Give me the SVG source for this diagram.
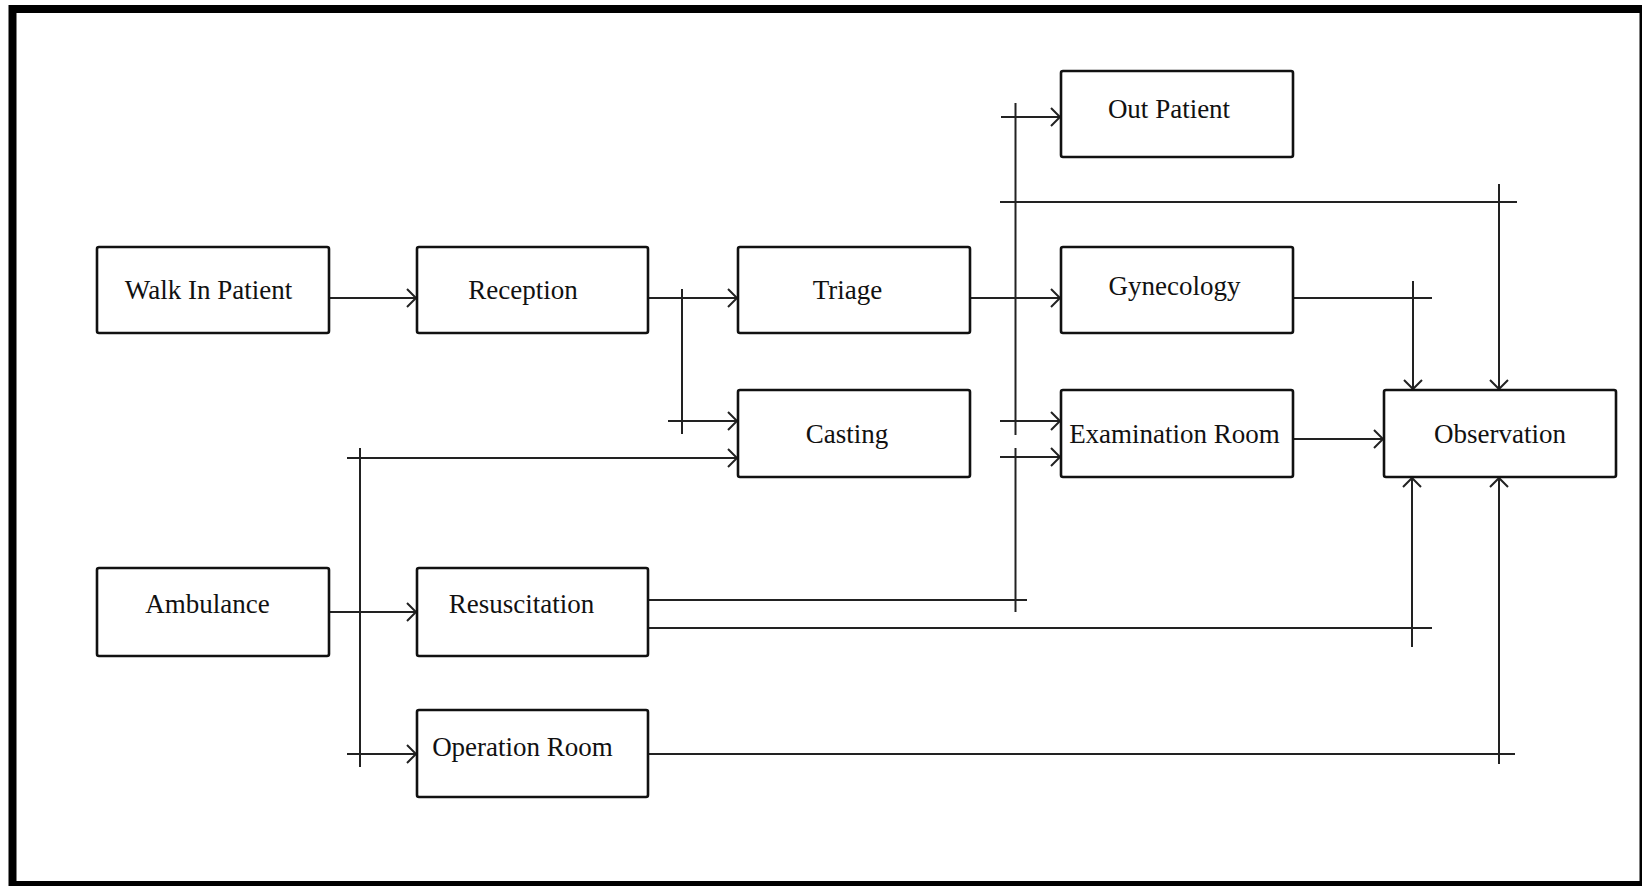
<svg xmlns="http://www.w3.org/2000/svg" width="1642" height="886" viewBox="0 0 1642 886">
  <style>
    .box { fill: #ffffff; stroke: #111111; stroke-width: 2.6; }
    .label { font-family: "Liberation Serif", "Times New Roman", serif; font-size: 27px; fill: #111111; text-anchor: middle; }
    .wire { fill: none; stroke: #222222; stroke-width: 2; }
    .arrow { marker-end: url(#open-arrow); }
  </style>
  <defs>
    <marker id="open-arrow" markerUnits="userSpaceOnUse" markerWidth="12" markerHeight="20" viewBox="0 0 12 20" refX="10" refY="10" orient="auto">
      <path d="M1,1 L10,10 L1,19" fill="none" stroke="#222222" stroke-width="2"/>
    </marker>
  </defs>

  <rect x="0" y="0" width="1642" height="886" fill="#ffffff"/>
  <!-- page frame -->
  <rect x="12.5" y="9" width="1631" height="876" fill="none" stroke="#000000" stroke-width="8"/>

  <!-- connectors -->
  <g id="connectors">
    <!-- walk-in path -->
    <path class="wire arrow" d="M329,298 H416"/>
    <path class="wire arrow" d="M648,298 H737"/>
    <path class="wire" d="M682,289 V434"/>
    <path class="wire arrow" d="M668,421 H737"/>
    <path class="wire arrow" d="M970,298 H1060"/>

    <!-- distribution bus after triage -->
    <path class="wire" d="M1015.5,103 V435"/>
    <path class="wire arrow" d="M1001,117 H1060"/>
    <path class="wire" d="M1000,202 H1517"/>
    <path class="wire arrow" d="M1499,184 V389"/>
    <path class="wire arrow" d="M1000,421 H1060"/>
    <path class="wire arrow" d="M1000,457 H1060"/>
    <path class="wire" d="M1015.5,448 V612"/>

    <!-- into observation -->
    <path class="wire" d="M1293,298 H1432"/>
    <path class="wire arrow" d="M1413,281 V389"/>
    <path class="wire arrow" d="M1293,439 H1383"/>

    <!-- resuscitation outputs -->
    <path class="wire" d="M648,600 H1027"/>
    <path class="wire" d="M648,628 H1432"/>
    <path class="wire arrow" d="M1412,647 V478"/>

    <!-- operation room output -->
    <path class="wire" d="M648,754 H1515"/>
    <path class="wire arrow" d="M1499,764 V478"/>

    <!-- ambulance branch -->
    <path class="wire" d="M360,448 V767"/>
    <path class="wire arrow" d="M347,458 H737"/>
    <path class="wire arrow" d="M329,612 H416"/>
    <path class="wire arrow" d="M347,754 H416"/>
  </g>

  <!-- nodes -->
  <g id="walk-in-patient">
    <rect class="box" x="97" y="247" width="232" height="86" rx="2"/>
    <text class="label" x="208.5" y="299">Walk In Patient</text>
  </g>
  <g id="reception">
    <rect class="box" x="417" y="247" width="231" height="86" rx="2"/>
    <text class="label" x="523" y="299">Reception</text>
  </g>
  <g id="triage">
    <rect class="box" x="738" y="247" width="232" height="86" rx="2"/>
    <text class="label" x="847.5" y="299">Triage</text>
  </g>
  <g id="out-patient">
    <rect class="box" x="1061" y="71" width="232" height="86" rx="2"/>
    <text class="label" x="1169" y="118">Out Patient</text>
  </g>
  <g id="gynecology">
    <rect class="box" x="1061" y="247" width="232" height="86" rx="2"/>
    <text class="label" x="1174.5" y="295">Gynecology</text>
  </g>
  <g id="casting">
    <rect class="box" x="738" y="390" width="232" height="87" rx="2"/>
    <text class="label" x="847" y="443">Casting</text>
  </g>
  <g id="examination-room">
    <rect class="box" x="1061" y="390" width="232" height="87" rx="2"/>
    <text class="label" x="1174.5" y="443">Examination Room</text>
  </g>
  <g id="observation">
    <rect class="box" x="1384" y="390" width="232" height="87" rx="2"/>
    <text class="label" x="1500" y="443">Observation</text>
  </g>
  <g id="ambulance">
    <rect class="box" x="97" y="568" width="232" height="88" rx="2"/>
    <text class="label" x="207.5" y="613">Ambulance</text>
  </g>
  <g id="resuscitation">
    <rect class="box" x="417" y="568" width="231" height="88" rx="2"/>
    <text class="label" x="521.5" y="613">Resuscitation</text>
  </g>
  <g id="operation-room">
    <rect class="box" x="417" y="710" width="231" height="87" rx="2"/>
    <text class="label" x="522.5" y="756">Operation Room</text>
  </g>
</svg>
